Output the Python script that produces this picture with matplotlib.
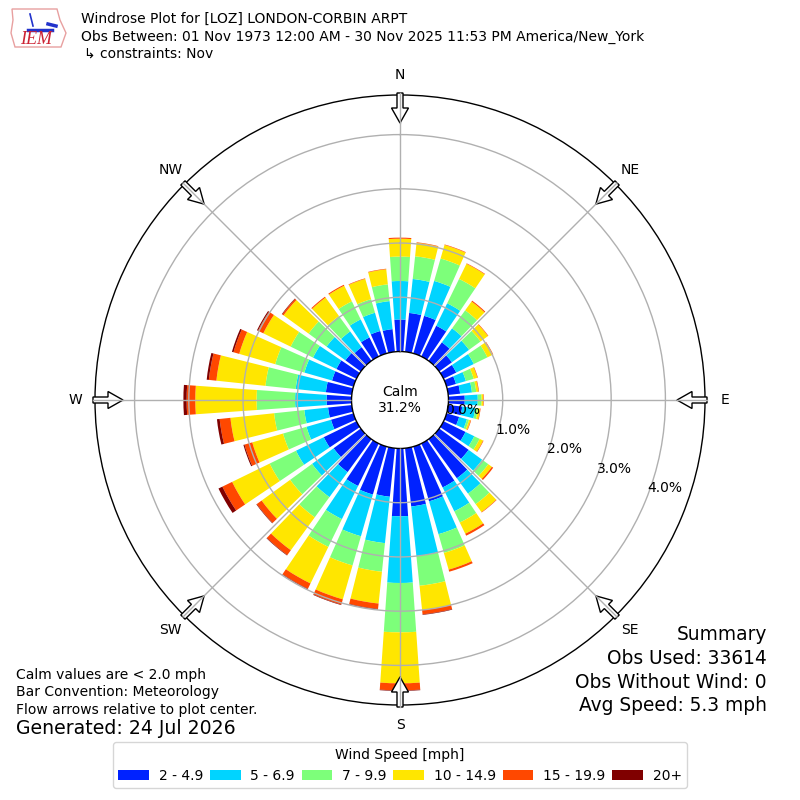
import numpy as np
import matplotlib
matplotlib.use("Agg")
import matplotlib.pyplot as plt
from matplotlib.patches import Patch, FancyArrow, Polygon

# ---------------- data (percent of observations) ----------------
directions = list(range(0, 360, 10))
speed_labels = ["2 - 4.9", "5 - 6.9", "7 - 9.9", "10 - 14.9", "15 - 19.9", "20+"]
colors = ["#0022ff", "#00d4ff", "#7dff7a", "#ffe600", "#ff4800", "#800000"]

s_2_5 = [0.59, 0.72, 0.72, 0.63, 0.42, 0.29, 0.26, 0.18, 0.22, 0.30, 0.26, 0.24,
         0.45, 0.67, 0.89, 0.90, 1.05, 1.08, 1.25, 0.90, 0.92, 0.87, 0.75, 0.62,
         0.67, 0.43, 0.44, 0.46, 0.48, 0.41, 0.41, 0.35, 0.31, 0.39, 0.43, 0.42]
s_5_7 = [0.71, 0.63, 0.67, 0.46, 0.32, 0.39, 0.36, 0.19, 0.22, 0.24, 0.24, 0.15,
         0.18, 0.31, 0.35, 0.49, 0.63, 0.92, 1.23, 0.86, 0.80, 0.68, 0.57, 0.49,
         0.57, 0.47, 0.44, 0.58, 0.56, 0.53, 0.48, 0.43, 0.36, 0.37, 0.35, 0.52]
s_7_10 = [0.45, 0.42, 0.43, 0.50, 0.41, 0.26, 0.28, 0.15, 0.08, 0.07, 0.05, 0.04,
          0.11, 0.14, 0.24, 0.23, 0.36, 0.55, 0.91, 0.53, 0.56, 0.57, 0.46, 0.50,
          0.54, 0.45, 0.56, 0.71, 0.56, 0.56, 0.46, 0.41, 0.35, 0.37, 0.26, 0.31]
s_10_15 = [0.33, 0.25, 0.26, 0.31, 0.20, 0.17, 0.11, 0.07, 0.04, 0.03, 0.04, 0.03,
           0.07, 0.08, 0.18, 0.23, 0.32, 0.45, 0.94, 0.59, 0.65, 0.75, 0.75, 0.65,
           0.77, 0.59, 0.81, 1.13, 0.91, 0.69, 0.56, 0.57, 0.42, 0.32, 0.39, 0.28]
s_15_20 = [0.02, 0.01, 0.01, 0.01, 0.02, 0.01, 0.01, 0.01, 0.01, 0.01, 0.01, 0.01,
           0.01, 0.03, 0.01, 0.04, 0.04, 0.08, 0.13, 0.10, 0.10, 0.11, 0.11, 0.11,
           0.20, 0.15, 0.20, 0.16, 0.14, 0.11, 0.11, 0.03, 0.02, 0.02, 0.01, 0.01]
s_20p = [0.00, 0.00, 0.00, 0.00, 0.00, 0.00, 0.00, 0.00, 0.00, 0.00, 0.00, 0.00,
         0.00, 0.00, 0.00, 0.00, 0.00, 0.01, 0.01, 0.01, 0.01, 0.01, 0.01, 0.01,
         0.08, 0.02, 0.05, 0.06, 0.04, 0.03, 0.02, 0.01, 0.00, 0.00, 0.00, 0.00]
series = [s_2_5, s_5_7, s_7_10, s_10_15, s_15_20, s_20p]

calm_pct = 31.2
r_ticks = [0, 1, 2, 3, 4]
compass = ["N", "NE", "E", "SE", "S", "SW", "W", "NW"]
compass_deg = [0, 45, 90, 135, 180, 225, 270, 315]

# ---------------- figure ----------------
plt.rcParams["font.family"] = ["DejaVu Sans"]
fig = plt.figure(figsize=(8, 8), dpi=100)

ax = fig.add_axes([95 / 800, 95 / 800, 610 / 800, 610 / 800], projection="polar")
ax.set_theta_zero_location("N")
ax.set_theta_direction(-1)
ax.patch.set_alpha(0)

theta = np.deg2rad(directions)
width = np.deg2rad(8.0)
bottom = np.zeros(len(directions))
for vals, col, lab in zip(series, colors, speed_labels):
    v = np.array(vals)
    ax.bar(theta, v, width=width, bottom=bottom, color=col, linewidth=0,
           align="center", zorder=2)
    bottom = bottom + v

ax.set_rlim(0, 4.73)
ax.set_rorigin(-0.894)
ax.set_thetagrids(compass_deg, labels=[""] * 8)
ax.set_rgrids([1, 2, 3, 4], labels=[""] * 4)
ax.grid(True, color="#b0b0b0", linewidth=1.0)
ax.set_axisbelow(False)
for sp in ("polar", "inner"):
    ax.spines[sp].set_color("black")
    ax.spines[sp].set_linewidth(1.0)

# calm text
ax.text(0.5, 0.5, f"Calm\n{calm_pct:.1f}%", transform=ax.transAxes,
        ha="center", va="center", fontsize=10, zorder=5)

# radial labels
for r in r_ticks:
    ax.text(np.deg2rad(111), r, f"{r:.1f}%", ha="left", va="bottom",
            fontsize=10, zorder=5, clip_on=False)

# ---------------- overlay (pixel coords) ----------------
ov = fig.add_axes([0, 0, 1, 1])
ov.set_xlim(0, 800)
ov.set_ylim(800, 0)
ov.axis("off")
ov.patch.set_alpha(0)

cx, cy = 400, 400
for lab, deg in zip(compass, compass_deg):
    a = np.deg2rad(deg)
    r_tail, r_tip = 307, 277
    xt, yt = cx + r_tail * np.sin(a), cy - r_tail * np.cos(a)
    xh, yh = cx + r_tip * np.sin(a), cy - r_tip * np.cos(a)
    ov.add_patch(FancyArrow(xt, yt, xh - xt, yh - yt, width=6, head_width=17,
                            head_length=15, length_includes_head=True,
                            facecolor="white", edgecolor="black", linewidth=1.0,
                            zorder=5))
    ov.plot([xt, xh], [yt, yh], color="#b0b0b0", lw=1.0, zorder=6)
    rl = 325
    ov.text(cx + rl * np.sin(a), cy - rl * np.cos(a), lab, ha="center",
            va="center", fontsize=10)

# logo
ov.add_patch(Polygon([(12, 9), (57, 9), (60, 20), (66, 33), (61, 47), (15, 47),
                      (11, 33), (13, 20)], closed=True, fill=False,
                     edgecolor="#e8a0a0", linewidth=1.0))
ov.plot([28, 52], [30, 30], color="#2233cc", lw=2.5)
ov.plot([48, 56], [24, 26], color="#2233cc", lw=2.5)
ov.plot([30, 33], [14, 26], color="#2233cc", lw=1.2)
ov.text(36, 40, "IEM", color="#cc2233", fontsize=13, ha="center", va="center",
        family=["Liberation Serif", "DejaVu Serif"], style="italic")

# titles
fig.text(81 / 800, 1 - 19 / 800, "Windrose Plot for [LOZ] LONDON-CORBIN ARPT",
         fontsize=10, va="center", ha="left")
fig.text(81 / 800, 1 - 37 / 800,
         "Obs Between: 01 Nov 1973 12:00 AM - 30 Nov 2025 11:53 PM America/New_York",
         fontsize=10, va="center", ha="left")
fig.text(84 / 800, 1 - 54 / 800, "\u21b3 constraints: Nov", fontsize=10,
         va="center", ha="left")

# bottom-left notes
fig.text(16 / 800, 1 - 675 / 800, "Calm values are < 2.0 mph", fontsize=10, va="center")
fig.text(16 / 800, 1 - 692 / 800, "Bar Convention: Meteorology", fontsize=10, va="center")
fig.text(16 / 800, 1 - 710 / 800, "Flow arrows relative to plot center.", fontsize=10,
         va="center")
fig.text(16 / 800, 1 - 729 / 800, "Generated: 24 Jul 2026", fontsize=13.6, va="center")

# summary
summary = ["Summary", "Obs Used: 33614", "Obs Without Wind: 0", "Avg Speed: 5.3 mph"]
for i, s in enumerate(summary):
    fig.text(767 / 800, 1 - (635 + 23.5 * i) / 800, s, fontsize=13.4,
             ha="right", va="center")

# legend
handles = [Patch(facecolor=c, edgecolor="none") for c in colors]
fig.legend(handles, speed_labels, ncol=6, loc="lower center",
           bbox_to_anchor=(0.5, 0.006), title="Wind Speed [mph]", fontsize=10,
           title_fontsize=10, handlelength=2.2, handletextpad=0.7,
           columnspacing=0.5)

fig.savefig("out.png", dpi=100, facecolor="white")
